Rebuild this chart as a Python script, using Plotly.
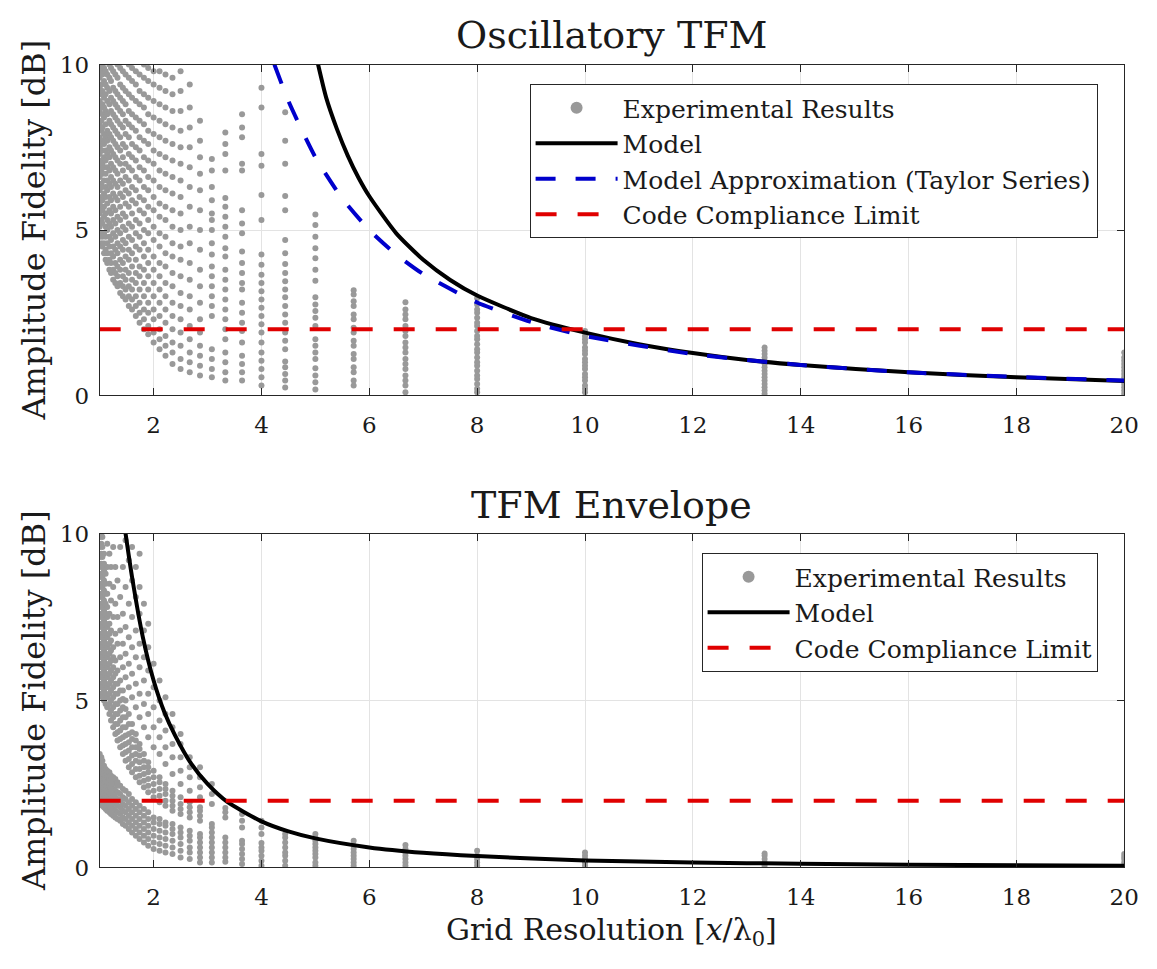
import plotly.graph_objects as go

# grid resolution columns (x / lambda0) where experiments were sampled
grid_res = [1.0, 1.03, 1.05, 1.08, 1.11, 1.14, 1.18, 1.21, 1.25, 1.29, 1.33, 1.38, 1.43,
            1.48, 1.54, 1.6, 1.67, 1.74, 1.82, 1.9, 2.0, 2.11, 2.22, 2.35, 2.5, 2.67,
            2.86, 3.08, 3.33, 3.64, 4.0, 4.44, 5.0, 5.71, 6.67, 8.0, 10.0, 13.33, 20.0]

# Oscillatory TFM - experimental amplitude fidelity per column [dB]
osc_exp = [
    [4.8, 5.1, 5.5, 5.8, 6.2, 6.6, 6.9, 7.3, 7.5, 7.8, 8.2, 8.6, 8.9, 9.3, 9.6, 9.9],
    [4.6, 4.9, 5.3, 5.7, 6.0, 6.4, 6.8, 7.1, 7.6, 8.0, 8.3, 8.7, 9.1, 9.4, 9.8],
    [4.5, 4.8, 5.2, 5.6, 5.9, 6.3, 6.7, 7.0, 7.4, 7.7, 8.1, 8.5, 8.8, 9.2, 9.7, 10.0],
    [4.3, 4.6, 4.9, 5.4, 5.7, 6.1, 6.5, 6.9, 7.2, 7.6, 7.9, 8.4, 8.7, 9.0, 9.5, 9.9],
    [4.1, 4.4, 4.8, 5.1, 5.5, 6.0, 6.3, 6.7, 7.1, 7.4, 7.8, 8.2, 8.6, 9.1, 9.4, 9.8],
    [4.0, 4.3, 4.6, 5.0, 5.3, 5.8, 6.2, 6.5, 6.9, 7.3, 7.7, 8.0, 8.5, 8.9, 9.3, 9.7],
    [3.8, 4.1, 4.5, 4.8, 5.2, 5.6, 6.0, 6.4, 6.8, 7.2, 7.5, 7.9, 8.3, 8.8, 9.2, 9.6, 10.0],
    [3.7, 4.0, 4.3, 4.7, 5.1, 5.5, 5.9, 6.3, 6.6, 7.0, 7.4, 7.8, 8.2, 8.6, 9.0, 9.5, 9.9],
    [3.5, 3.8, 4.2, 4.5, 4.9, 5.3, 5.7, 6.1, 6.5, 6.9, 7.3, 7.7, 8.1, 8.5, 8.9, 9.3, 9.8],
    [3.4, 3.7, 4.0, 4.4, 4.8, 5.2, 5.6, 6.0, 6.4, 6.8, 7.2, 7.6, 8.0, 8.4, 8.8, 9.2, 9.7],
    [3.3, 3.6, 3.9, 4.3, 4.6, 5.0, 5.4, 5.9, 6.3, 6.7, 7.1, 7.5, 7.9, 8.3, 8.7, 9.1, 9.6, 10.0],
    [3.1, 3.4, 3.8, 4.1, 4.5, 4.9, 5.3, 5.7, 6.1, 6.5, 7.0, 7.4, 7.8, 8.2, 8.6, 9.0, 9.4, 9.9],
    [3.0, 3.3, 3.6, 4.0, 4.4, 4.7, 5.1, 5.5, 6.0, 6.4, 6.8, 7.2, 7.6, 8.1, 8.5, 8.9, 9.3, 9.8],
    [2.9, 3.2, 3.5, 3.8, 4.2, 4.6, 5.0, 5.4, 5.8, 6.2, 6.6, 7.0, 7.5, 7.9, 8.3, 8.8, 9.2, 9.7],
    [2.7, 3.0, 3.3, 3.7, 4.1, 4.4, 4.8, 5.2, 5.7, 6.1, 6.5, 6.9, 7.3, 7.8, 8.2, 8.6, 9.1, 9.6, 10.0],
    [2.6, 2.9, 3.2, 3.5, 3.9, 4.3, 4.7, 5.1, 5.5, 5.9, 6.3, 6.8, 7.2, 7.6, 8.1, 8.5, 9.0, 9.5, 9.9],
    [2.4, 2.7, 3.0, 3.4, 3.7, 4.1, 4.5, 4.9, 5.3, 5.8, 6.2, 6.6, 7.1, 7.5, 8.0, 8.4, 8.9, 9.4, 9.8],
    [2.2, 2.5, 2.8, 3.2, 3.6, 3.9, 4.4, 4.8, 5.2, 5.6, 6.0, 6.5, 6.9, 7.4, 7.8, 8.3, 8.8, 9.2, 9.7],
    [2.0, 2.3, 2.6, 3.0, 3.4, 3.8, 4.2, 4.6, 5.0, 5.5, 5.9, 6.3, 6.8, 7.2, 7.7, 8.2, 8.7, 9.1, 9.6, 10.0],
    [1.85, 2.1, 2.5, 2.8, 3.2, 3.6, 4.0, 4.4, 4.9, 5.3, 5.7, 6.2, 6.6, 7.1, 7.6, 8.0, 8.5, 9.0, 9.5, 9.9],
    [1.6, 1.9, 2.3, 2.6, 3.0, 3.4, 3.8, 4.2, 4.7, 5.1, 5.6, 6.0, 6.5, 7.0, 7.4, 7.9, 8.4, 8.9, 9.4, 9.8],
    [1.4, 1.7, 2.0, 2.4, 2.8, 3.2, 3.6, 4.0, 4.5, 4.9, 5.4, 5.8, 6.3, 6.8, 7.3, 7.8, 8.3, 8.8, 9.3, 9.8],
    [1.2, 1.5, 1.8, 2.2, 2.6, 3.0, 3.4, 3.9, 4.3, 4.8, 5.3, 5.7, 6.2, 6.7, 7.2, 7.7, 8.2, 8.7, 9.2, 9.7],
    [0.95, 1.3, 1.6, 2.0, 2.4, 2.8, 3.3, 3.7, 4.2, 4.6, 5.1, 5.6, 6.1, 6.6, 7.1, 7.6, 8.1, 8.6, 9.1, 9.6],
    [0.8, 1.1, 1.5, 1.9, 2.3, 2.7, 3.1, 3.6, 4.1, 4.5, 5.0, 5.5, 6.0, 6.5, 7.0, 7.5, 8.0, 8.6, 9.2, 9.8],
    [0.7, 1.0, 1.3, 1.7, 2.1, 2.6, 3.0, 3.5, 4.0, 4.6, 5.1, 5.7, 6.3, 6.9, 7.5, 8.1, 8.7, 9.4],
    [0.6, 0.9, 1.2, 1.5, 1.9, 2.3, 2.8, 3.3, 3.8, 4.4, 5.0, 5.6, 6.2, 6.7, 7.2, 7.7, 8.3],
    [0.55, 0.8, 1.1, 1.4, 2.4, 2.7, 3.0, 3.3, 3.6, 3.9, 4.26, 4.6, 5.0, 5.3, 5.5, 5.9, 6.3, 6.8, 7.15],
    [0.45, 0.7, 1.0, 1.3, 1.7, 2.0, 2.3, 2.6, 2.9, 3.2, 3.5, 3.8, 4.2, 4.45, 4.8, 5.1, 5.4, 5.7,
     5.97, 6.8, 7.3, 7.6, 7.95],
    [0.45, 0.7, 0.95, 1.2, 1.6, 1.95, 2.2, 2.5, 2.8, 3.2, 3.4, 3.7, 4.0, 4.35, 4.9, 5.2, 5.6, 6.8,
     7.0, 7.8, 8.1, 8.5],
    [0.3, 0.55, 0.8, 1.05, 1.3, 1.6, 1.9, 2.15, 2.4, 2.65, 2.9, 3.15, 3.4, 3.65, 3.95, 4.26, 5.3,
     6.06, 6.94, 7.3, 8.7, 9.3],
    [0.24, 0.45, 0.65, 0.85, 1.03, 1.4, 1.65, 1.9, 2.2, 2.45, 2.7, 2.97, 3.2, 3.45, 3.7, 3.97, 4.3,
     4.7, 5.6, 6.03, 7.0, 7.7, 8.56],
    [0.18, 0.4, 0.6, 0.82, 1.1, 1.3, 1.5, 1.7, 2.1, 2.35, 2.55, 2.75, 2.97, 3.47, 3.8, 4.15, 4.45,
     4.8, 5.15, 5.47],
    [0.3, 0.45, 0.7, 0.85, 1.1, 1.25, 1.5, 1.65, 1.9, 2.05, 2.3, 2.45, 2.7, 2.85, 3.05, 3.18],
    [0.1, 0.3, 0.45, 0.6, 0.8, 0.95, 1.1, 1.3, 1.45, 1.6, 1.8, 1.95, 2.1, 2.3, 2.45, 2.6, 2.82],
    [0.1, 0.2, 0.35, 0.5, 0.6, 0.75, 0.9, 1.0, 1.15, 1.3, 1.4, 1.55, 1.7, 1.8, 1.95, 2.1, 2.2,
     2.35, 2.5, 2.6, 2.75, 2.94],
    [0.1, 0.2, 0.3, 0.45, 0.55, 0.65, 0.8, 0.9, 1.0, 1.1, 1.25, 1.35, 1.45, 1.6, 1.7, 1.8, 1.95],
    [0.05, 0.15, 0.25, 0.35, 0.45, 0.55, 0.65, 0.75, 0.85, 0.95, 1.05, 1.15, 1.25, 1.35, 1.45],
    [0.05, 0.15, 0.25, 0.35, 0.45, 0.55, 0.65, 0.75, 0.85, 0.95, 1.05, 1.15, 1.3],
]

# TFM Envelope - experimental results, read as three bands of points per column
env_low = [
    [1.95, 2.15, 2.35, 2.55, 2.75, 2.95, 3.15, 3.4], [1.9, 2.1, 2.3, 2.5, 2.7, 2.9, 3.1, 3.3],
    [1.85, 2.05, 2.25, 2.45, 2.65, 2.85, 3.05, 3.2], [1.8, 2.0, 2.2, 2.4, 2.6, 2.8, 3.05],
    [1.75, 1.95, 2.15, 2.35, 2.55, 2.75, 2.95], [1.7, 1.9, 2.1, 2.3, 2.5, 2.7, 2.9],
    [1.65, 1.85, 2.05, 2.25, 2.45, 2.65, 2.85], [1.6, 1.8, 2.0, 2.2, 2.4, 2.6, 2.75],
    [1.55, 1.75, 1.95, 2.15, 2.35, 2.55, 2.7], [1.5, 1.7, 1.9, 2.1, 2.3, 2.5, 2.65],
    [1.45, 1.65, 1.85, 2.05, 2.25, 2.45, 2.55], [1.4, 1.6, 1.8, 2.0, 2.2, 2.45],
    [1.3, 1.5, 1.7, 1.9, 2.1, 2.35], [1.25, 1.45, 1.65, 1.85, 2.05, 2.3],
    [1.15, 1.35, 1.55, 1.75, 1.95, 2.2], [1.05, 1.25, 1.45, 1.65, 1.85, 2.05],
    [0.95, 1.15, 1.35, 1.55, 1.75, 1.95], [0.85, 1.05, 1.25, 1.45, 1.65, 1.85],
    [0.75, 0.95, 1.15, 1.35, 1.55, 1.75], [0.65, 0.85, 1.05, 1.25, 1.45, 1.65],
    [0.55, 0.75, 0.95, 1.15, 1.35, 1.5], [0.5, 0.7, 0.9, 1.1, 1.3, 1.45],
    [0.45, 0.65, 0.85, 1.05, 1.25, 1.35], [0.4, 0.6, 0.8, 1.0, 1.15, 1.3],
    [0.3, 0.5, 0.7, 0.9, 1.05, 1.2], [0.25, 0.45, 0.6, 0.8, 0.95, 1.1],
    [0.15, 0.3, 0.45, 0.6, 0.75, 0.9, 1.0], [0.15, 0.3, 0.45, 0.6, 0.75, 0.9, 1.05, 1.2, 1.3],
    [0.17, 0.3, 0.45, 0.6, 0.75, 0.9], [0.1, 0.25, 0.4, 0.55, 0.7, 0.8],
    [0.05, 0.2, 0.35, 0.5, 0.6, 0.73], [0.05, 0.2, 0.35, 0.45, 0.6],
    [0.05, 0.15, 0.3, 0.4, 0.5, 0.6, 0.7, 0.8, 0.9, 1.0],
    [0.05, 0.15, 0.25, 0.35, 0.45, 0.55, 0.65, 0.8],
    [0.05, 0.15, 0.25, 0.35, 0.45, 0.55, 0.67], [0.05, 0.15, 0.25, 0.35, 0.5],
    [0.05, 0.15, 0.25, 0.35, 0.45], [0.05, 0.15, 0.25, 0.35, 0.42], [0.05, 0.15, 0.25, 0.32, 0.4],
]
env_mid = [
    [5.4, 5.7, 6.0, 6.3, 6.6, 6.9, 7.2, 7.5, 7.8, 8.1, 8.4, 8.7, 9.0, 9.3, 9.6, 9.9],
    [5.2, 5.5, 5.8, 6.1, 6.4, 6.7, 7.0, 7.3, 7.6, 7.9, 8.2, 8.5, 8.8, 9.1, 9.4, 9.7, 10.0],
    [5.1, 5.4, 5.7, 6.0, 6.3, 6.6, 6.9, 7.2, 7.5, 7.8, 8.1, 8.4, 8.7, 9.0, 9.3, 9.6, 9.9],
    [5.0, 5.3, 5.6, 5.9, 6.2, 6.5, 6.8, 7.1, 7.4, 7.7, 8.0, 8.3, 8.6, 8.9, 9.1, 9.4],
    [4.9, 5.2, 5.5, 5.8, 6.1, 6.4, 6.7, 7.0, 7.3, 7.6, 7.9, 8.2, 8.5, 8.8],
    [4.8, 5.1, 5.4, 5.7, 6.0, 6.3, 6.6, 6.9, 7.2, 7.5, 7.8, 8.2],
    [4.6, 4.9, 5.2, 5.5, 5.8, 6.1, 6.4, 6.7, 7.0, 7.3, 7.6],
    [4.4, 4.7, 5.0, 5.3, 5.6, 5.9, 6.2, 6.5, 6.8, 7.1],
    [4.2, 4.5, 4.8, 5.1, 5.4, 5.7, 6.0, 6.3, 6.6],
    [4.0, 4.3, 4.6, 4.9, 5.2, 5.5, 5.8, 6.2],
    [3.8, 4.05, 4.3, 4.6, 4.9, 5.2, 5.5, 5.9],
    [3.6, 3.85, 4.1, 4.4, 4.7, 5.0, 5.3, 5.6],
    [3.4, 3.65, 3.9, 4.2, 4.5, 4.8, 5.05, 5.3],
    [3.2, 3.45, 3.7, 3.95, 4.2, 4.5, 4.75, 5.0],
    [3.0, 3.25, 3.5, 3.75, 4.0, 4.3, 4.6],
    [2.85, 3.1, 3.35, 3.6, 3.85, 4.05, 4.3],
    [2.7, 2.95, 3.2, 3.4, 3.6, 3.8, 4.0],
    [2.55, 2.75, 2.95, 3.15, 3.35, 3.55, 3.7],
    [2.4, 2.6, 2.8, 3.0, 3.2, 3.4],
    [2.25, 2.45, 2.65, 2.85, 3.0, 3.15],
    [2.1, 2.3, 2.5, 2.7, 2.9],
    [1.95, 2.15, 2.35, 2.55, 2.7],
    [1.85, 2.0, 2.2, 2.35, 2.5],
    [1.7, 1.85, 2.0, 2.15, 2.3],
    [1.6, 1.75, 1.9, 2.1],
    [1.5, 1.65, 1.8, 1.95],
    [1.4, 1.55, 1.7, 1.8],
    [], [], [], [], [], [], [], [], [], [], [], [],
]
env_high = [
    [], [], [], [], [],
    [9.0, 9.7], [8.5, 9.4], [8.0, 9.0], [7.5, 8.4, 9.6], [7.0, 7.9, 9.0], [6.7, 7.5, 8.6],
    [6.3, 7.1, 8.1, 9.6], [6.0, 6.7, 7.6, 9.0], [5.7, 6.4, 7.2, 8.4, 9.8], [5.4, 6.1, 6.9, 7.9, 9.2],
    [5.1, 5.8, 6.6, 7.5, 8.6, 9.6], [4.8, 5.5, 6.3, 7.1, 8.1, 9.0],
    [4.5, 5.2, 6.0, 6.7, 7.6, 8.4, 9.4], [4.2, 4.9, 5.6, 6.3, 7.1, 7.9],
    [3.9, 4.6, 5.2, 5.9, 6.6, 7.3], [3.6, 4.2, 4.8, 5.4, 6.1], [3.4, 3.9, 4.4, 5.0, 5.6],
    [3.1, 3.6, 4.1, 4.6, 5.1], [2.8, 3.3, 3.7, 4.2, 4.6], [2.5, 2.9, 3.3, 3.7, 4.0],
    [2.3, 2.7, 3.0, 3.3], [2.1, 2.4, 2.7, 3.0], [1.9, 2.2, 2.5], [1.5, 1.65, 1.78],
    [1.2, 1.4, 1.6], [1.0, 1.2, 1.4], [0.75, 0.9, 1.0],
    [], [], [], [], [], [], [],
]

# model curves
osc_model_x = [5.05, 5.2, 5.4, 5.6, 5.8, 6.0, 6.5, 7.0, 7.5, 8.0, 9.0, 10.0, 11.0, 12.0, 13.0,
               14.0, 16.0, 18.0, 20.0]
osc_model_y = [10.0, 9.0, 8.05, 7.25, 6.58, 6.02, 4.9, 4.1, 3.49, 3.02, 2.34, 1.9, 1.55, 1.28,
               1.07, 0.92, 0.7, 0.55, 0.44]
taylor_x = [4.24, 4.5, 5.0, 5.5, 6.0, 6.5, 7.0, 8.0, 9.0, 10.0, 12.0, 14.0, 16.0, 18.0, 20.0]
taylor_y = [10.0, 8.9, 7.2, 5.95, 5.0, 4.26, 3.67, 2.81, 2.22, 1.8, 1.25, 0.92, 0.7, 0.56, 0.45]
env_model_x = [1.48, 1.6, 1.8, 2.0, 2.2, 2.4, 2.7, 3.0, 3.36, 4.0, 4.5, 5.0, 6.0, 7.0, 8.0, 10.0,
               12.0, 14.0, 16.0, 18.0, 20.0]
env_model_y = [10.0, 8.7, 6.9, 5.6, 4.65, 3.95, 3.1, 2.5, 1.97, 1.38, 1.08, 0.87, 0.6, 0.44, 0.34,
               0.21, 0.15, 0.11, 0.08, 0.065, 0.05]

compliance_limit = 2.0
x_range = [1, 20]
y_range = [0, 10]

FONT = "DejaVu Serif, serif"
INK = "#1a1a1a"
GRAY = "#999999"
W, H = 1157, 969


def flatten(cols_x, *bands):
    xs, ys = [], []
    for band in bands:
        for x, vals in zip(cols_x, band):
            xs += [x] * len(vals)
            ys += vals
    return xs, ys


fig = go.Figure()

# ---- top: oscillatory TFM
ox, oy = flatten(grid_res, osc_exp)
fig.add_trace(go.Scatter(x=ox, y=oy, mode="markers", showlegend=False,
                         marker=dict(color=GRAY, size=6), xaxis="x", yaxis="y"))
fig.add_trace(go.Scatter(x=[None], y=[None], mode="markers", name="Experimental Results",
                         marker=dict(color=GRAY, size=12), xaxis="x", yaxis="y", legend="legend"))
fig.add_trace(go.Scatter(x=osc_model_x, y=osc_model_y, mode="lines", name="Model",
                         line=dict(color="black", width=4, shape="spline", smoothing=0.6),
                         xaxis="x", yaxis="y", legend="legend"))
fig.add_trace(go.Scatter(x=taylor_x, y=taylor_y, mode="lines",
                         name="Model Approximation (Taylor Series)",
                         line=dict(color="#0000cc", width=4, dash="20px,20px", shape="spline",
                                   smoothing=0.6),
                         xaxis="x", yaxis="y", legend="legend"))
fig.add_trace(go.Scatter(x=x_range, y=[compliance_limit] * 2, mode="lines",
                         name="Code Compliance Limit",
                         line=dict(color="#e00000", width=4, dash="21px,21px"),
                         xaxis="x", yaxis="y", legend="legend"))

# ---- bottom: TFM envelope
ex, ey = flatten(grid_res, env_low, env_mid, env_high)
fig.add_trace(go.Scatter(x=ex, y=ey, mode="markers", showlegend=False,
                         marker=dict(color=GRAY, size=6), xaxis="x2", yaxis="y2"))
fig.add_trace(go.Scatter(x=[None], y=[None], mode="markers", name="Experimental Results",
                         marker=dict(color=GRAY, size=12), xaxis="x2", yaxis="y2",
                         legend="legend2"))
fig.add_trace(go.Scatter(x=env_model_x, y=env_model_y, mode="lines", name="Model",
                         line=dict(color="black", width=4, shape="spline", smoothing=0.6),
                         xaxis="x2", yaxis="y2", legend="legend2"))
fig.add_trace(go.Scatter(x=x_range, y=[compliance_limit] * 2, mode="lines",
                         name="Code Compliance Limit",
                         line=dict(color="#e00000", width=4, dash="21px,21px"),
                         xaxis="x2", yaxis="y2", legend="legend2"))

x_dom = [101 / W, 1139 / W]
top_dom = [1 - 393 / H, 1 - 53 / H]
bot_dom = [1 - 878 / H, 1 - 535 / H]
x_mid = (x_dom[0] + x_dom[1]) / 2

axis_common = dict(showline=True, linecolor="#262626", linewidth=1, mirror="ticks",
                   ticks="inside", ticklen=7, tickcolor="#262626", showgrid=True,
                   gridcolor="#e3e3e3", gridwidth=1, zeroline=False,
                   tickfont=dict(family=FONT, size=23, color=INK))
xax = dict(axis_common, range=x_range, tickvals=list(range(2, 21, 2)), domain=x_dom,
           ticklabelstandoff=9)
yax = dict(axis_common, range=y_range, tickvals=[0, 5, 10], ticklabelstandoff=5)

legend_common = dict(bgcolor="white", bordercolor="#262626", borderwidth=1,
                     font=dict(family=FONT, size=25, color=INK),
                     xanchor="right", yanchor="top", tracegroupgap=0, itemwidth=82)


def label(text, x, y, size, angle=0):
    return dict(text=text, x=x, y=y, xref="paper", yref="paper", showarrow=False,
                xanchor="center", yanchor="middle", textangle=angle,
                font=dict(family=FONT, size=size, color=INK))


fig.update_layout(
    width=W, height=H,
    margin=dict(l=0, r=0, t=0, b=0),
    paper_bgcolor="white", plot_bgcolor="white",
    xaxis=dict(xax, anchor="y"),
    yaxis=dict(yax, domain=top_dom, anchor="x"),
    xaxis2=dict(xax, anchor="y2"),
    yaxis2=dict(yax, domain=bot_dom, anchor="x2"),
    legend=dict(legend_common, x=1112 / W, y=1 - 73 / H),
    legend2=dict(legend_common, x=1112 / W, y=1 - 555 / H),
    annotations=[
        label("Oscillatory TFM", x_mid, 1 - 23 / H, 38),
        label("TFM Envelope", x_mid, 1 - 506 / H, 38),
        label("Grid Resolution [<i>x</i>/λ<sub>0</sub>]", x_mid, 1 - 944 / H, 30),
        label("Amplitude Fidelity [dB]", 34 / W, sum(top_dom) / 2, 32, -90),
        label("Amplitude Fidelity [dB]", 34 / W, sum(bot_dom) / 2, 32, -90),
    ],
)

# pin the figure to the page corner so the page is exactly the figure size
pin_page = ("document.body.style.margin='0';document.body.style.overflow='hidden';"
            "var gd=document.getElementById('{plot_id}');"
            "gd.style.position='fixed';gd.style.left='0px';gd.style.top='0px';")

fig.write_html("out.html", post_script=pin_page, config={"displayModeBar": False})
